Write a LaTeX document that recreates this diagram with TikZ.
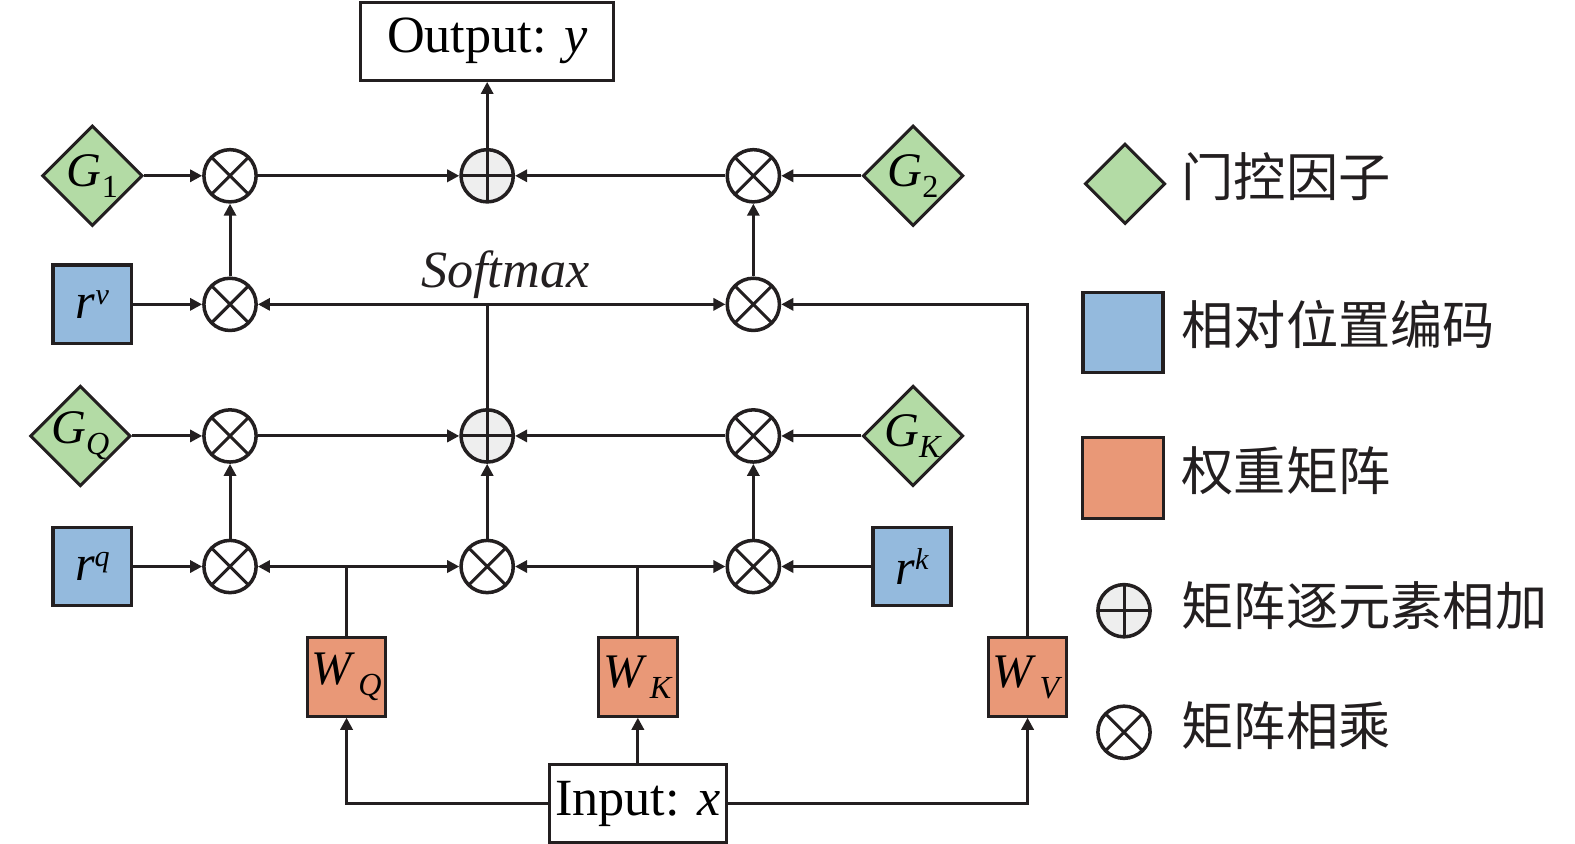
\documentclass[tikz,border=0pt]{standalone}
\usepackage{fontspec}
\setmainfont{Liberation Serif}
\newfontfamily\cjk{Noto Sans CJK SC}
\usetikzlibrary{arrows.meta,shapes.geometric}
\definecolor{gfill}{HTML}{B3DBA5}
\definecolor{bfill}{HTML}{94BADD}
\definecolor{ofill}{HTML}{E99877}
\definecolor{pfill}{HTML}{EEEEEE}
\definecolor{ink}{HTML}{231F20}
\newcommand{\lsub}[3][0pt]{\textit{#2}\kern#1\raisebox{-5.5pt}{\fontsize{16}{16}\selectfont #3}}
\newcommand{\lsup}[2]{\textit{#1}\raisebox{7pt}{\fontsize{15}{15}\selectfont\textit{#2}}}
\begin{document}
\begin{tikzpicture}[x=0.5pt,y=-0.5pt,
  line/.style={draw=ink, line width=1.5pt},
  arr/.style={line, -{Triangle[length=6pt,width=6pt]}},
  gate/.style={diamond, draw=ink, fill=gfill, line width=1.5pt, minimum width=50pt, minimum height=50pt, inner sep=0pt},
  glabel/.style={font=\fontsize{24}{24}\selectfont, inner sep=0pt},
  posbox/.style={rectangle, draw=ink, fill=bfill, line width=1.75pt, minimum size=39pt, inner sep=0pt, font=\fontsize{25}{25}\selectfont},
  wbox/.style={rectangle, draw=ink, fill=ofill, line width=1.5pt, minimum size=39pt, inner sep=0pt, font=\fontsize{24}{24}\selectfont},
  iobox/.style={rectangle, draw=ink, fill=white, line width=1.5pt, inner sep=0pt, font=\fontsize{26}{26}\selectfont},
  otimes/.style={circle, draw=ink, line width=1.75pt, minimum size=26pt, inner sep=0pt,
    path picture={\draw[ink, line width=1.5pt] (path picture bounding box.north west) -- (path picture bounding box.south east) (path picture bounding box.north east) -- (path picture bounding box.south west);}},
  oplus/.style={circle, draw=ink, fill=pfill, line width=1.75pt, minimum size=26pt, inner sep=0pt,
    path picture={\draw[ink, line width=1.5pt] (path picture bounding box.north) -- (path picture bounding box.south) (path picture bounding box.west) -- (path picture bounding box.east);}},
  legtext/.style={anchor=west, inner sep=0pt, font=\cjk\fontsize{26}{26}\selectfont, text=ink}
]
\useasboundingbox (0,0) rectangle (1568,840);

% IO boxes
\node[iobox, minimum width=126pt, minimum height=39pt] (out) at (485,41) {Output: \textit{y}};
\node[iobox, minimum width=88pt, minimum height=38.5pt] (in) at (635,800) {Input: \textit{x}};

% row 1
\node[gate, label={[glabel]center:\lsub{G}{1}}] (g1) at (92,175) {};
\node[otimes] (m11) at (229,175) {};
\node[oplus] (p1) at (485,175) {};
\node[otimes] (m13) at (750,175) {};
\node[gate, label={[glabel]center:\lsub{G}{2}}] (g2) at (909,175) {};

% row 2
\node[posbox] (rv) at (92,303) {\lsup{r}{v}};
\node[otimes] (m21) at (229,303) {};
\node[otimes] (m23) at (750,303) {};
\coordinate (js) at (485,303);
\node[font=\fontsize{26}{26}\selectfont\itshape, inner sep=0pt, text=ink] (sm) at (503,273) {Softmax};

% row 3
\node[gate, label={[glabel]center:\lsub{G}{\textit{Q}}}] (gq) at (80,434) {};
\node[otimes] (m31) at (229,434) {};
\node[oplus] (p2) at (485,434) {};
\node[otimes] (m33) at (750,434) {};
\node[gate, label={[glabel]center:\lsub{G}{\textit{K}}}] (gk) at (909,434) {};

% row 4
\node[posbox] (rq) at (92,564) {\lsup{r}{q}};
\node[otimes] (m41) at (229,564) {};
\node[otimes] (m42) at (485,564) {};
\node[otimes] (m43) at (750,564) {};
\node[posbox] (rk) at (908,564) {\lsup{r}{k}};
\coordinate (jq) at (345,564);
\coordinate (jk) at (635,564);

% weights
\node[wbox] (wq) at (345,674) {\lsub[1.5pt]{W}{\textit{Q}}};
\node[wbox] (wk) at (635,674) {\lsub[1.5pt]{W}{\textit{K}}};
\node[wbox] (wv) at (1023,674) {\lsub[1.5pt]{W}{\textit{V}}};

% connectors row 1/2
\draw[arr] (g1) -- (m11);
\draw[arr] (m21) -- (m11);
\draw[arr] (rv) -- (m21);
\draw[arr] (m11) -- (p1);
\draw[arr] (m13) -- (p1);
\draw[arr] (g2) -- (m13);
\draw[arr] (m23) -- (m13);
\draw[arr] (p1) -- (out);
\draw[line] (p2) -- (js);
\draw[arr] (js) -- (m21);
\draw[arr] (js) -- (m23);
\draw[arr] (wv.north) |- (m23.east);

% connectors row 3/4
\draw[arr] (gq) -- (m31);
\draw[arr] (m41) -- (m31);
\draw[arr] (m31) -- (p2);
\draw[arr] (m33) -- (p2);
\draw[arr] (gk) -- (m33);
\draw[arr] (m43) -- (m33);
\draw[arr] (m42) -- (p2);
\draw[arr] (rq) -- (m41);
\draw[arr] (rk) -- (m43);
\draw[line] (wq) -- (jq);
\draw[arr] (jq) -- (m41);
\draw[arr] (jq) -- (m42);
\draw[line] (wk) -- (jk);
\draw[arr] (jk) -- (m42);
\draw[arr] (jk) -- (m43);

% input
\draw[arr] (in) -- (wk);
\draw[arr] (in.west) -| (wq.south);
\draw[arr] (in.east) -| (wv.south);

% legend
\node[gate, minimum width=40pt, minimum height=40pt] (lg) at (1120,183) {};
\node[posbox, minimum size=40pt] (lb) at (1118,331) {};
\node[wbox, minimum size=40pt] (lo) at (1118,476) {};
\node[oplus] (lp) at (1119,608) {};
\node[otimes] (lm) at (1119,729) {};
\node[legtext] (t1) at (1176,176) {门控因子};
\node[legtext] (t2) at (1176,323) {相对位置编码};
\node[legtext] (t3) at (1176,469) {权重矩阵};
\node[legtext] (t4) at (1176,603) {矩阵逐元素相加};
\node[legtext] (t5) at (1176,722) {矩阵相乘};
\end{tikzpicture}
\end{document}
